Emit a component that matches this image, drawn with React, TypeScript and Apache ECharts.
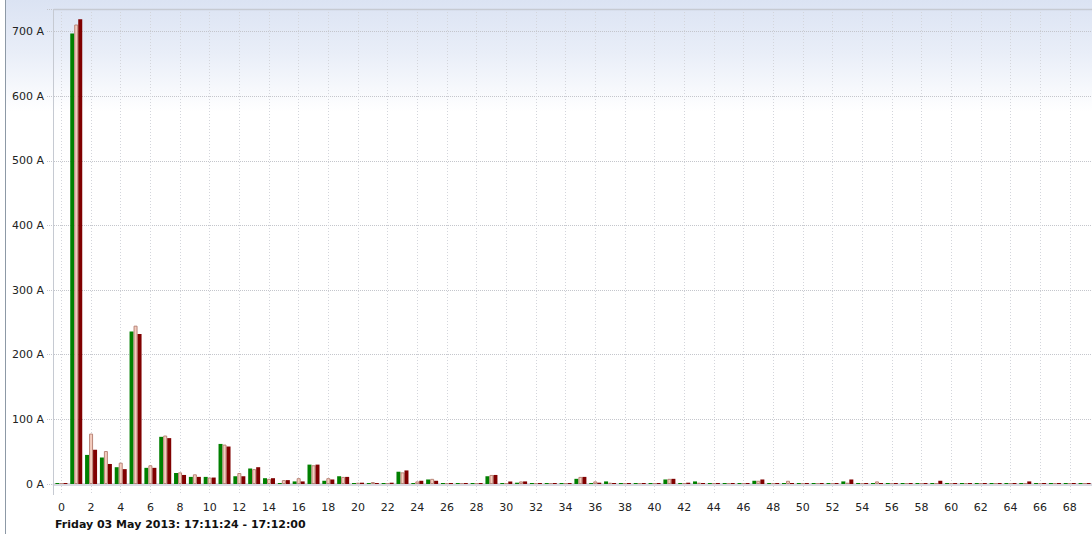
import React, { useEffect, useRef } from "react";
import * as echarts from "echarts";

const harmonicOrders: string[] = Array.from({ length: 70 }, (_, i) => String(i));

const phaseL1: number[] = [
  0, 697, 45, 41, 26, 236, 25, 73, 17, 11,
  11, 62, 12, 24, 9, 0, 4, 30, 5, 12,
  0, 0, 0, 19, 0, 7, 0, 0, 0, 12,
  0, 2, 0, 0, 0, 8, 0, 4, 0, 0,
  0, 7, 0, 4, 0, 0, 0, 5, 0, 0,
  0, 0, 0, 4, 0, 0, 0, 0, 0, 0,
  0, 0, 0, 0, 0, 0, 0, 0, 0, 0,
];

const phaseL2: number[] = [
  0, 711, 78, 51, 33, 245, 29, 75, 18, 15,
  10, 61, 17, 23, 8, 6, 9, 29, 9, 11,
  2, 3, 1.5, 18, 4, 8, 1.5, 1.5, 0, 14,
  1, 4, 0, 0, 0, 11, 4, 2, 0, 0,
  0, 8, 1, 2, 0, 0, 0, 5, 0, 5,
  0, 0, 0, 2, 0, 4, 0, 0, 0, 1.5,
  0, 0, 0, 0, 0, 0, 0, 0, 0, 0,
];

const phaseL3: number[] = [
  0, 719, 53, 31, 23, 232, 25, 71, 14, 11,
  10, 58, 12, 26, 9, 6, 4, 30, 7, 11,
  2, 0, 2, 21, 5, 5, 0, 0, 0, 14,
  4, 4, 0, 0, 0, 11, 2, 0, 0, 0,
  0, 8, 2, 0, 0, 0, 0, 7, 0, 0,
  0, 0, 0, 7, 0, 0, 0, 0, 0, 5,
  0, 0, 0, 0, 0, 4, 0, 0, 0, 0,
];

const footerText = "Friday 03 May 2013: 17:11:24 - 17:12:00";
const FONT = "'DejaVu Sans', Verdana, sans-serif";

export default function App() {
  const ref = useRef<HTMLDivElement>(null);

  useEffect(() => {
    if (!ref.current) return;
    const chart = echarts.init(ref.current, undefined, { renderer: "svg" });
    const W = 1092;
    const H = 534;
    const gridLeft = 54;
    const band = (W - gridLeft) / harmonicOrders.length;

    chart.setOption({
      animation: false,
      backgroundColor: "#ffffff",
      textStyle: { fontFamily: FONT },
      grid: [
        { left: gridLeft, right: 0, top: 9, bottom: 50, containLabel: false },
        { left: gridLeft + band / 2, right: band / 2, top: 9, bottom: 40, containLabel: false },
      ],
      xAxis: [
        {
          type: "category",
          gridIndex: 0,
          data: harmonicOrders,
          boundaryGap: true,
          offset: 10,
          axisLine: { show: true, lineStyle: { color: "#d9dae2", width: 3 } },
          axisTick: { show: false },
          splitLine: { show: false },
          axisLabel: {
            interval: 1,
            margin: 8,
            color: "#222",
            fontSize: 11,
            fontFamily: FONT,
          },
        },
        {
          type: "category",
          gridIndex: 1,
          data: harmonicOrders,
          boundaryGap: false,
          axisLine: { show: false },
          axisTick: { show: false },
          axisLabel: { show: false },
          splitLine: {
            show: true,
            interval: 1,
            lineStyle: { color: "#d3d5db", type: [1, 2], width: 1 },
          },
        },
      ],
      yAxis: [
        {
          type: "value",
          gridIndex: 0,
          min: 0,
          max: 735,
          interval: 100,
          axisLine: { show: false },
          axisTick: {
            show: true,
            length: 8,
            lineStyle: { color: "#c4c6cc", type: [1, 1] },
          },
          splitLine: {
            show: true,
            lineStyle: { color: "#c4c6cc", type: [1, 1], width: 1 },
          },
          axisLabel: {
            margin: 10,
            color: "#222",
            fontSize: 11,
            fontFamily: FONT,
            formatter: (v: number) => (v % 100 === 0 ? `${v} A` : ""),
          },
        },
        {
          type: "value",
          gridIndex: 1,
          show: false,
          min: 0,
          max: 1,
          splitLine: { show: false },
        },
      ],
      series: [
        {
          name: "L1",
          type: "bar",
          xAxisIndex: 0,
          yAxisIndex: 0,
          data: phaseL1,
          barWidth: 4,
          barGap: "0%",
          barMinHeight: 1,
          itemStyle: { color: "#008000" },
        },
        {
          name: "L2",
          type: "bar",
          xAxisIndex: 0,
          yAxisIndex: 0,
          data: phaseL2,
          barWidth: 4,
          barGap: "0%",
          barMinHeight: 1,
          itemStyle: { color: "#f4cdbf", borderColor: "#b98578", borderWidth: 1 },
        },
        {
          name: "L3",
          type: "bar",
          xAxisIndex: 0,
          yAxisIndex: 0,
          data: phaseL3,
          barWidth: 4,
          barGap: "0%",
          barMinHeight: 1,
          itemStyle: { color: "#800000" },
        },
      ],
      graphic: [
        {
          type: "rect",
          z: -10,
          silent: true,
          shape: { x: 6, y: 0, width: W - 6, height: H },
          style: {
            fill: new echarts.graphic.LinearGradient(0, 0, 0, 1, [
              { offset: 0, color: "#dbe3f3" },
              { offset: 0.1, color: "#e9eef8" },
              { offset: 0.21, color: "#ffffff" },
              { offset: 1, color: "#ffffff" },
            ]),
          },
        },
        {
          type: "line",
          silent: true,
          z: 5,
          shape: { x1: 5.5, y1: 0, x2: 5.5, y2: H },
          style: { stroke: "#8d99a6", lineWidth: 1 },
        },
        {
          type: "line",
          silent: true,
          z: 5,
          shape: { x1: 53.5, y1: 9.5, x2: W, y2: 9.5 },
          style: { stroke: "#c6cad2", lineWidth: 1.5 },
        },
        {
          type: "line",
          silent: true,
          z: 5,
          shape: { x1: 53.5, y1: 9, x2: 53.5, y2: 495 },
          style: { stroke: "#c6cad2", lineWidth: 1 },
        },
        {
          type: "text",
          silent: true,
          left: 55,
          top: 519,
          style: {
            text: footerText,
            fill: "#111",
            font: `bold 11px ${FONT}`,
          },
        },
      ],
    });

    return () => chart.dispose();
  }, []);

  return (
    <div
      ref={ref}
      style={{ position: "absolute", left: 0, top: 0, width: 1092, height: 534 }}
    />
  );
}
